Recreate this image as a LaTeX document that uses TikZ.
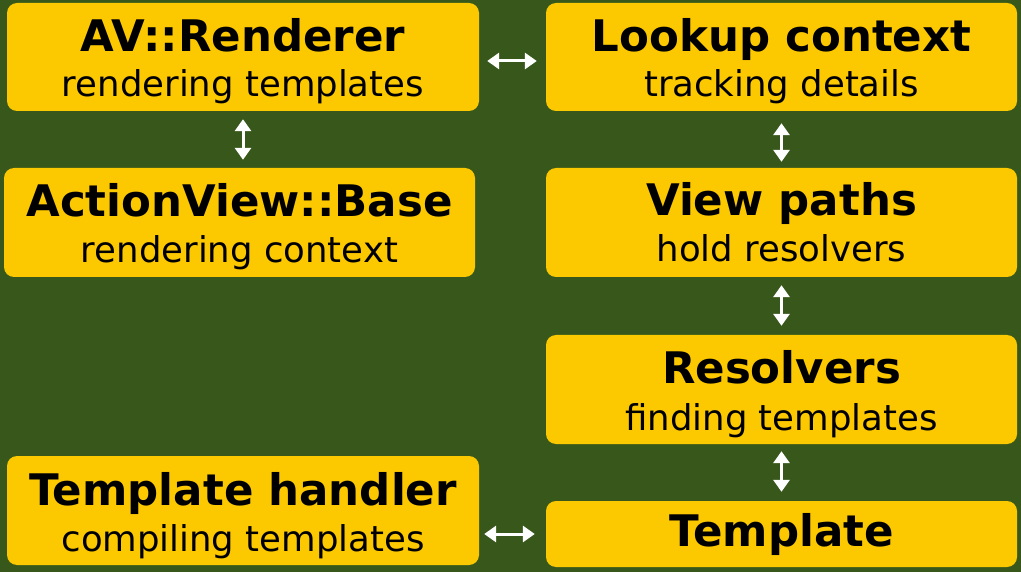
\documentclass[tikz,border=0pt]{standalone}
\usepackage{fontspec}
\setmainfont{DejaVu Sans}
\usetikzlibrary{arrows.meta}
\definecolor{bg}{HTML}{38581B}
\definecolor{boxy}{HTML}{FCC800}
\begin{document}
\begin{tikzpicture}[x=1pt,y=-1pt,
  box/.style={fill=boxy, rounded corners=10pt, inner sep=0pt, minimum width=471pt},
  ttl/.style={anchor=base, inner sep=0pt, text=black, font=\bfseries\fontsize{43.5}{43.5}\selectfont},
  sub/.style={anchor=base, inner sep=0pt, text=black, font=\fontsize{35.5}{35.5}\selectfont},
  link/.style={draw=white, line width=3pt, {Triangle[width=16pt,length=12pt]}-{Triangle[width=16pt,length=12pt]}}]
\fill[bg] (0,0) rectangle (1021,572);
\useasboundingbox (0,0) rectangle (1021,572);
% boxes
\node[box, minimum width=472pt, minimum height=108pt] (avr) at (243,57) {};
\node[box, minimum height=108pt] (lc) at (781.5,57) {};
\node[box, minimum height=109pt] (avb) at (239.5,222.5) {};
\node[box, minimum height=109pt] (vp) at (781.5,222.5) {};
\node[box, minimum height=109pt] (res) at (781.5,389.5) {};
\node[box, minimum width=472pt, minimum height=109pt] (th) at (243,510.5) {};
\node[box, minimum height=66pt] (tpl) at (781.5,534) {};
% texts
\node[ttl] (avr-t) at (243,52) {AV::Renderer};
\node[sub] (avr-s) at (243,97) {rendering templates};
\node[ttl] (lc-t) at (781.5,52) {Lookup context};
\node[sub] (lc-s) at (781.5,97) {tracking details};
\node[ttl] (avb-t) at (239.5,217) {ActionView::Base};
\node[sub] (avb-s) at (239.5,263) {rendering context};
\node[ttl] (vp-t) at (781.5,216) {View paths};
\node[sub] (vp-s) at (781.5,262) {hold resolvers};
\node[ttl] (res-t) at (781.5,383) {Resolvers};
\node[sub] (res-s) at (781.5,430) {finding templates};
\node[ttl] (th-t) at (243,505) {Template handler};
\node[sub] (th-s) at (243,551) {compiling templates};
\node[ttl] (tpl-t) at (781.5,546) {Template};
% connectors
\draw[link, shorten <=8pt, shorten >=9pt] ([yshift=-4pt]avr.east) -- ([yshift=-4pt]lc.west);
\draw[link, shorten <=8pt, shorten >=8pt] (avr.south) -- (avr.south |- avb.north);
\draw[link, shorten <=12pt, shorten >=6pt] (lc.south) -- (vp.north);
\draw[link, shorten <=8pt, shorten >=9pt] (vp.south) -- (res.north);
\draw[link, shorten <=7pt, shorten >=9pt] (res.south) -- (tpl.north);
\draw[link, shorten <=5pt, shorten >=11pt] (th.east |- tpl.west) -- (tpl.west);
\end{tikzpicture}
\end{document}
